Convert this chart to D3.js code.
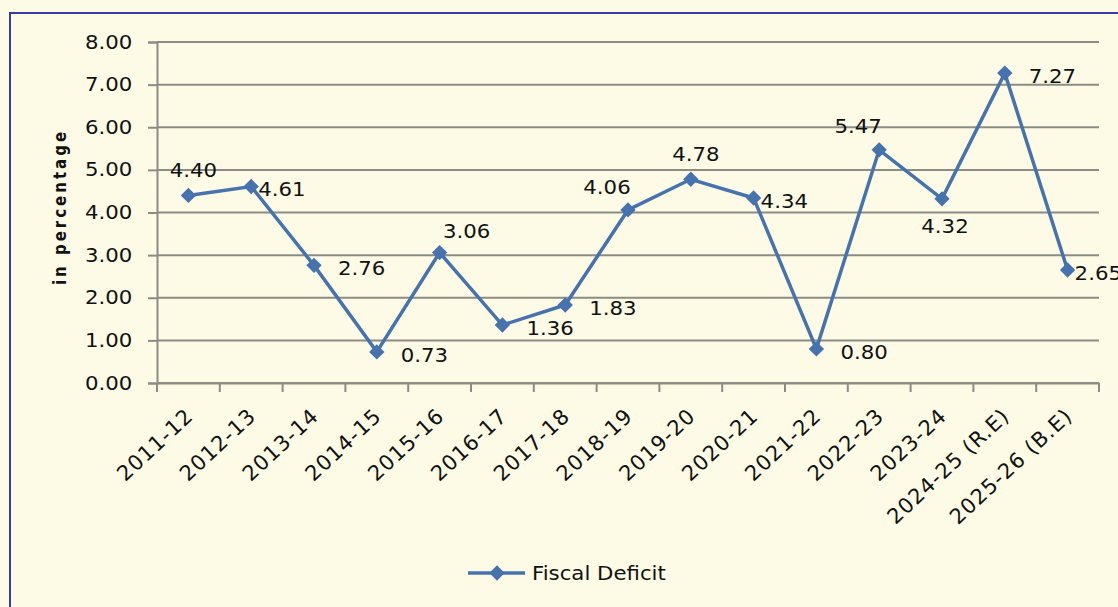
<!DOCTYPE html>
<html>
<head>
<meta charset="utf-8">
<script src="https://cdn.jsdelivr.net/npm/d3@7"></script>
<style>
  body { margin: 0; background: #fdfbe6; }
  svg { display: block; }
</style>
</head>
<body>
<div id="chart"></div>
<script>
const years = ["2011-12", "2012-13", "2013-14", "2014-15", "2015-16", "2016-17", "2017-18",
    "2018-19", "2019-20", "2020-21", "2021-22", "2022-23", "2023-24", "2024-25 (R.E)", "2025-26 (B.E)"];
const deficit = [4.40, 4.61, 2.76, 0.73, 3.06, 1.36, 1.83, 4.06, 4.78, 4.34, 0.80, 5.47, 4.32, 7.27, 2.65];
// where the data label sits relative to its point
const labelSide = ["above", "rightNear", "right", "right", "aboveRight", "right", "right",
    "aboveLeft", "above", "rightNear", "right", "aboveLeft", "below", "right", "rightNear"];
const yTicks = [0, 1, 2, 3, 4, 5, 6, 7, 8];

function drawChart() {
    const width = 1118;
    const height = 607;
    const margin = { top: 42, right: 19, bottom: 224, left: 157 };
    const innerW = width - margin.left - margin.right;
    const innerH = height - margin.top - margin.bottom;
    const lineColor = "#4672ae";
    const gridColor = "#8c8c84";
    const font = "'DejaVu Sans', Verdana, sans-serif";
    const sx = 1.12; // the original text is a bit wide

    const svg = d3.select("#chart")
        .append("svg")
        .attr("width", width)
        .attr("height", height)
        .style("background-color", "#fdfbe6");

    // outer frame
    svg.append("path")
        .attr("d", `M10,${height + 5}V13H${width + 5}`)
        .attr("fill", "none")
        .attr("stroke", "#3a3aa6")
        .attr("stroke-width", 2);

    const g = svg.append("g")
        .attr("transform", `translate(${margin.left},${margin.top})`);

    const x = d3.scaleBand()
        .domain(years)
        .range([0, innerW]);

    const y = d3.scaleLinear()
        .domain([0, 8])
        .range([innerH, 0]);

    // gridlines
    g.append("g")
        .selectAll("line")
        .data(yTicks)
        .join("line")
        .attr("x1", 0)
        .attr("x2", innerW)
        .attr("y1", d => y(d))
        .attr("y2", d => y(d))
        .attr("stroke", gridColor)
        .attr("stroke-width", 2);

    const yAxis = g.append("g")
        .call(d3.axisLeft(y).tickValues(yTicks).tickFormat(d3.format(".2f")).tickSize(9).tickPadding(13));
    yAxis.select(".domain").attr("stroke", gridColor).attr("stroke-width", 2);
    yAxis.selectAll(".tick line").attr("stroke", gridColor).attr("stroke-width", 2);
    yAxis.selectAll("text")
        .attr("transform", `scale(${sx},1)`)
        .style("font-family", font)
        .style("font-size", "19px")
        .attr("fill", "#111");

    const xAxis = g.append("g")
        .attr("transform", `translate(0,${innerH})`)
        .call(d3.axisBottom(x).tickSize(0).tickFormat(""));
    xAxis.select(".domain").attr("stroke", gridColor).attr("stroke-width", 2);

    // ticks between categories
    xAxis.selectAll("line.sep")
        .data(d3.range(years.length + 1))
        .join("line")
        .attr("class", "sep")
        .attr("x1", i => i * x.step())
        .attr("x2", i => i * x.step())
        .attr("y1", 0)
        .attr("y2", 9)
        .attr("stroke", gridColor)
        .attr("stroke-width", 2);

    xAxis.selectAll("text.cat")
        .data(years)
        .join("text")
        .attr("class", "cat")
        .attr("transform", d => `translate(${x(d) + x.bandwidth() / 2 - 4},24) rotate(-43)`)
        .attr("text-anchor", "end")
        .attr("dy", "0.7em")
        .style("font-family", font)
        .style("font-size", "21px")
        .style("letter-spacing", "1px")
        .attr("fill", "#111")
        .text(d => d);

    // y axis title
    svg.append("text")
        .attr("transform", `translate(66,207) scale(${sx},1) rotate(-90)`)
        .attr("text-anchor", "middle")
        .style("font-family", font)
        .style("font-size", "15px")
        .style("font-weight", "bold")
        .style("letter-spacing", "3px")
        .attr("fill", "#111")
        .text("in percentage");

    const points = years.map((d, i) => ({ year: d, value: deficit[i], side: labelSide[i] }));
    const cx = d => x(d.year) + x.bandwidth() / 2;

    const line = d3.line()
        .x(cx)
        .y(d => y(d.value));

    g.append("path")
        .datum(points)
        .attr("fill", "none")
        .attr("stroke", lineColor)
        .attr("stroke-width", 3.5)
        .attr("d", line);

    const diamond = d3.symbol().type(d3.symbolDiamond2).size(150);

    g.selectAll("path.pt")
        .data(points)
        .join("path")
        .attr("class", "pt")
        .attr("transform", d => `translate(${cx(d)},${y(d.value)})`)
        .attr("d", diamond)
        .attr("fill", lineColor);

    const place = {
        above: { dx: 5, dy: -25, anchor: "middle" },
        aboveRight: { dx: 27, dy: -21, anchor: "middle" },
        aboveLeft: { dx: -21, dy: -23, anchor: "middle" },
        below: { dx: 3, dy: 27, anchor: "middle" },
        right: { dx: 24, dy: 3, anchor: "start" },
        rightNear: { dx: 7, dy: 3, anchor: "start" }
    };

    g.selectAll("text.lbl")
        .data(points)
        .join("text")
        .attr("class", "lbl")
        .attr("transform", d => `translate(${cx(d) + place[d.side].dx},${y(d.value) + place[d.side].dy}) scale(${sx},1)`)
        .attr("dy", "0.35em")
        .attr("text-anchor", d => place[d.side].anchor)
        .style("font-family", font)
        .style("font-size", "19px")
        .attr("fill", "#111")
        .text(d => d3.format(".2f")(d.value));

    // legend
    const legend = svg.append("g")
        .attr("transform", "translate(468,573)");

    legend.append("line")
        .attr("x1", 0)
        .attr("x2", 57)
        .attr("stroke", lineColor)
        .attr("stroke-width", 3.5);

    legend.append("path")
        .attr("transform", "translate(29,0)")
        .attr("d", diamond)
        .attr("fill", lineColor);

    legend.append("text")
        .attr("transform", `translate(64,0) scale(${sx},1)`)
        .attr("dy", "0.35em")
        .style("font-family", font)
        .style("font-size", "19px")
        .attr("fill", "#111")
        .text("Fiscal Deficit");
}

drawChart();
</script>
</body>
</html>
